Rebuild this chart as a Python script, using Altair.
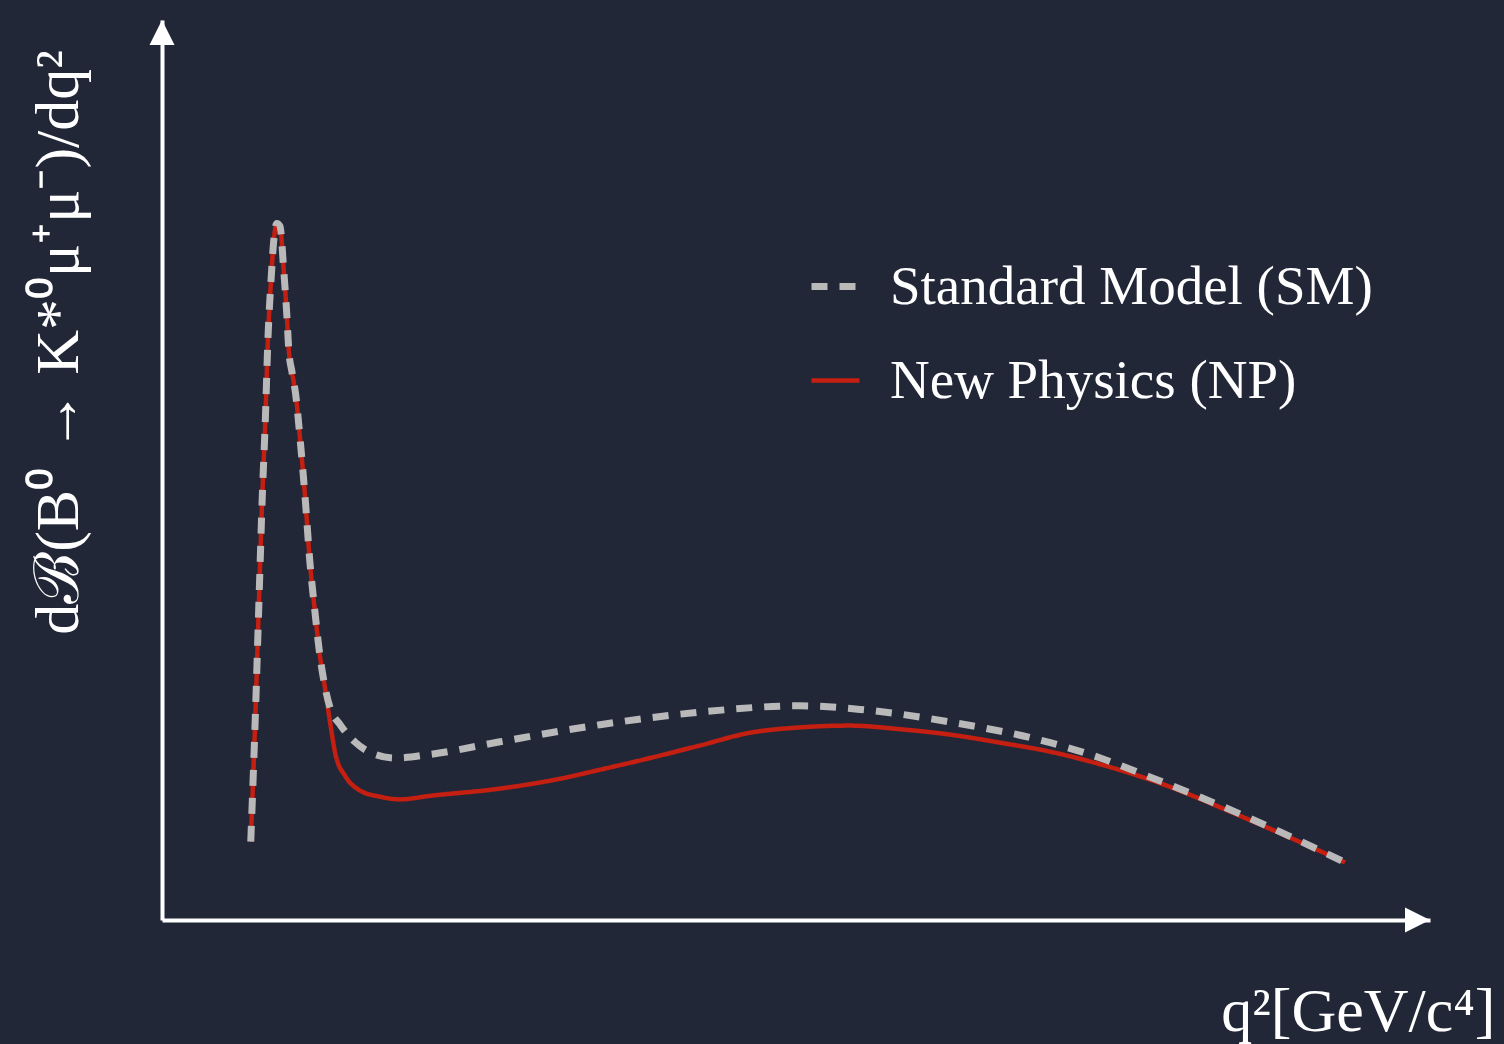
import altair as alt
import pandas as pd

# ---- data (q^2 in GeV^2/c^4, arbitrary rate units) ----
sm_q2 = [1.40, 1.47, 1.53, 1.58, 1.63, 1.67, 1.72, 1.77, 1.81, 1.86, 1.92, 1.97, 2.00,
         2.05, 2.11, 2.18, 2.26, 2.33, 2.41, 2.49, 2.56, 2.65, 2.81, 3.04, 3.36, 3.68,
         4.23, 5.33, 6.91, 8.49, 10.06, 11.01, 12.43, 14.01, 14.80, 15.58, 17.16, 18.66]
sm_val = [0.87, 2.22, 3.56, 4.67, 5.56, 6.44, 7.11, 7.60, 7.74, 7.71, 7.22, 6.71, 6.33,
          6.09, 5.83, 5.33, 4.67, 4.00, 3.44, 2.94, 2.63, 2.36, 2.17, 1.98, 1.84, 1.80,
          1.84, 1.98, 2.17, 2.31, 2.38, 2.34, 2.20, 1.97, 1.80, 1.59, 1.13, 0.64]

np_q2 = [1.40, 1.47, 1.53, 1.58, 1.63, 1.67, 1.72, 1.77, 1.81, 1.86, 1.92, 1.97, 2.00,
         2.05, 2.11, 2.18, 2.26, 2.33, 2.41, 2.49, 2.56, 2.65, 2.74, 2.89, 3.12, 3.44,
         3.75, 4.23, 5.33, 6.28, 6.91, 7.70, 8.49, 9.27, 10.06, 10.85, 11.64, 12.43,
         13.22, 14.01, 14.80, 15.58, 17.16, 18.66]
np_val = [0.87, 2.22, 3.56, 4.67, 5.56, 6.44, 7.11, 7.60, 7.74, 7.71, 7.22, 6.71, 6.33,
          6.09, 5.83, 5.33, 4.67, 4.00, 3.44, 2.94, 2.63, 2.20, 1.83, 1.60, 1.44, 1.37,
          1.34, 1.38, 1.46, 1.57, 1.67, 1.80, 1.94, 2.08, 2.14, 2.16, 2.12, 2.06,
          1.97, 1.87, 1.73, 1.56, 1.11, 0.64]

series = ["Standard Model (SM)", "New Physics (NP)"]
series_colors = ["#b9b9b9", "#c41f10"]
series_dashes = [[16, 12], [1, 0]]
series_widths = [7, 4.5]

x_domain = [0, 20]
y_domain = [0, 10]

x_title = "q²[GeV/c⁴]"
y_title = "dℬ(B⁰  →  K*⁰μ⁺μ⁻)/dq²"

df_sm = pd.DataFrame({"q2": sm_q2, "val": sm_val, "model": series[0]})
df_np = pd.DataFrame({"q2": np_q2, "val": np_val, "model": series[1]})
df_yarrow = pd.DataFrame({"q2": [x_domain[0]], "val": [y_domain[1]]})
df_xarrow = pd.DataFrame({"q2": [x_domain[1]], "val": [y_domain[0]]})

X = alt.X("q2:Q", scale=alt.Scale(domain=x_domain, nice=False, zero=False),
          axis=alt.Axis(title=x_title, titleX=1333, titleY=110, titleAlign="right",
                        titleBaseline="alphabetic", titleFontSize=62))
Y = alt.Y("val:Q", scale=alt.Scale(domain=y_domain, nice=False, zero=False),
          axis=alt.Axis(title=y_title, titleX=-104, titleY=322, titleAngle=-90,
                        titleAlign="center", titleBaseline="middle", titleFontSize=62))

color = alt.Color("model:N", scale=alt.Scale(domain=series, range=series_colors), title=None)
dash = alt.StrokeDash("model:N", scale=alt.Scale(domain=series, range=series_dashes), title=None)
width = alt.StrokeWidth("model:N", scale=alt.Scale(domain=series, range=series_widths), title=None)

np_line = alt.Chart(df_np).mark_line(interpolate="monotone", strokeCap="butt").encode(
    x=X, y=Y, color=color, strokeDash=dash, strokeWidth=width)
sm_line = alt.Chart(df_sm).mark_line(interpolate="monotone", strokeCap="butt").encode(
    x=X, y=Y, color=color, strokeDash=dash, strokeWidth=width)

yarrow = alt.Chart(df_yarrow).mark_point(
    shape="M0,0L-1,2L1,2Z", size=625, filled=True, color="white", opacity=1, strokeWidth=0
).encode(x=X, y=Y)
xarrow = alt.Chart(df_xarrow).mark_point(
    shape="M0,0L-2,-1L-2,1Z", size=625, filled=True, color="white", opacity=1, strokeWidth=0
).encode(x=X, y=Y)

chart = alt.layer(np_line, sm_line, yarrow, xarrow).properties(
    width=1268, height=900,
    background="#222738",
    padding={"left": 162, "top": 20, "right": 74, "bottom": 124},
    autosize=alt.AutoSizeParams(type="none"),
).configure_view(stroke=None).configure_axis(
    domainColor="white", domainWidth=4, ticks=False, labels=False, grid=False,
    titleColor="white", titleFont="Liberation Serif", titleFontWeight="normal",
    titleLimit=2000,
).configure_legend(
    orient="none", legendX=646, legendY=239, padding=0,
    labelFont="Liberation Serif", labelFontSize=55, labelColor="white", labelLimit=2000,
    symbolType="stroke", symbolSize=2304, labelOffset=27, rowPadding=38,
)

chart.save("out.html", embed_options={"renderer": "svg", "actions": False})
